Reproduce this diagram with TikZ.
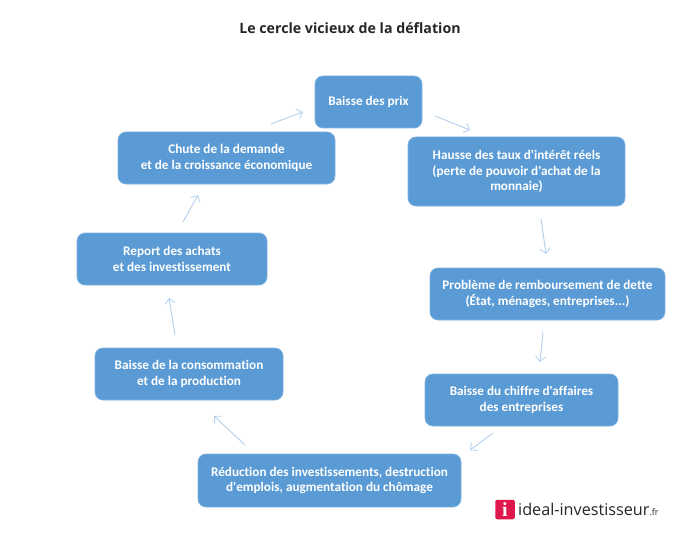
\documentclass[tikz,border=0pt]{standalone}
\usepackage{fontspec}
\newfontfamily\boxfont[Ligatures=NoCommon]{Carlito}
\newfontfamily\titlefont{Open Sans}
\newfontfamily\logofont{Open Sans}
\newfontfamily\logoifont{Liberation Serif}
\definecolor{boxfill}{HTML}{5B9BD5}
\definecolor{boxedge}{HTML}{7FB2E0}
\definecolor{arrowc}{HTML}{B4CFEC}
\definecolor{logored}{HTML}{E0174C}
\usetikzlibrary{arrows.meta}
\tikzset{
  stepbox/.style={draw=boxedge,line width=0.7pt,fill=boxfill,rounded corners=8pt,text=white,align=center,
    font=\boxfont\fontsize{13.2}{15.6}\selectfont\bfseries,inner sep=0pt},
  arr/.style={draw=arrowc,line width=0.9pt,-{Straight Barb[length=5pt,width=10pt,line width=0.8pt]}}
}
\begin{document}
\begin{tikzpicture}[x=1pt,y=-1pt]
\useasboundingbox (0,0) rectangle (700,548);
\fill[white] (0,0) rectangle (700,548);
\node[font=\titlefont\fontsize{14.2}{16}\selectfont\bfseries,text=black!85] (title) at (350,28) {Le cercle vicieux de la déflation};
\node[stepbox,minimum width=107pt,minimum height=52pt] (prix) at (368.5,102) {Baisse des prix};
\node[stepbox,minimum width=217pt,minimum height=69pt] (hausse) at (516.5,171.5) {Hausse des taux d'intérêt réels\\(perte de pouvoir d'achat de la\\monnaie)};
\node[stepbox,minimum width=235pt,minimum height=52pt] (dette) at (547.5,294) {Problème de remboursement de dette\\(État, ménages, entreprises...)};
\node[stepbox,minimum width=193pt,minimum height=52pt] (ca) at (521.5,400) {Baisse du chiffre d'affaires\\des entreprises};
\node[stepbox,minimum width=263pt,minimum height=53pt] (reduc) at (329.5,480.5) {Réduction des investissements, destruction\\d'emplois, augmentation du chômage};
\node[stepbox,minimum width=188pt,minimum height=52pt] (conso) at (189,374) {Baisse de la consommation\\et de la production};
\node[stepbox,minimum width=190pt,minimum height=52pt] (report) at (172,259) {Report des achats\\et des investissement};
\node[stepbox,minimum width=217pt,minimum height=52pt] (chute) at (226.5,158) {Chute de la demande\\et de la croissance économique};
\draw[arr] ([shift={(66.5,14)}]prix.center) -- ([shift={(-46.5,-41.5)}]hausse.center);
\draw[arr] ([shift={(24.5,47.5)}]hausse.center) -- ([shift={(-1.5,-40)}]dette.center);
\draw[arr] ([shift={(-4.5,38)}]dette.center) -- ([shift={(18.5,-38)}]ca.center);
\draw[arr] ([shift={(-28.5,33)}]ca.center) -- ([shift={(140.5,-30.5)}]reduc.center);
\draw[arr] ([shift={(-84.5,-35.5)}]reduc.center) -- ([shift={(25,42)}]conso.center);
\draw[arr] ([shift={(-14,-39)}]conso.center) -- ([shift={(-3,39)}]report.center);
\draw[arr] ([shift={(11,-37)}]report.center) -- ([shift={(-28.5,37)}]chute.center);
\draw[arr] ([shift={(44.5,-34)}]chute.center) -- ([shift={(-65.5,10)}]prix.center);
\node[fill=logored,rounded corners=2pt,minimum size=19.5pt,inner sep=0pt,text=white,font=\logoifont\fontsize{20}{20}\selectfont\bfseries] (logo) at (505,509.5) {i};
\node[anchor=west,inner sep=0pt,text=black!85,font=\logofont\fontsize{16.2}{18}\selectfont] (brand) at (518,509) {ideal-investisseur\fontsize{9}{10}\selectfont.fr};
\end{tikzpicture}
\end{document}
